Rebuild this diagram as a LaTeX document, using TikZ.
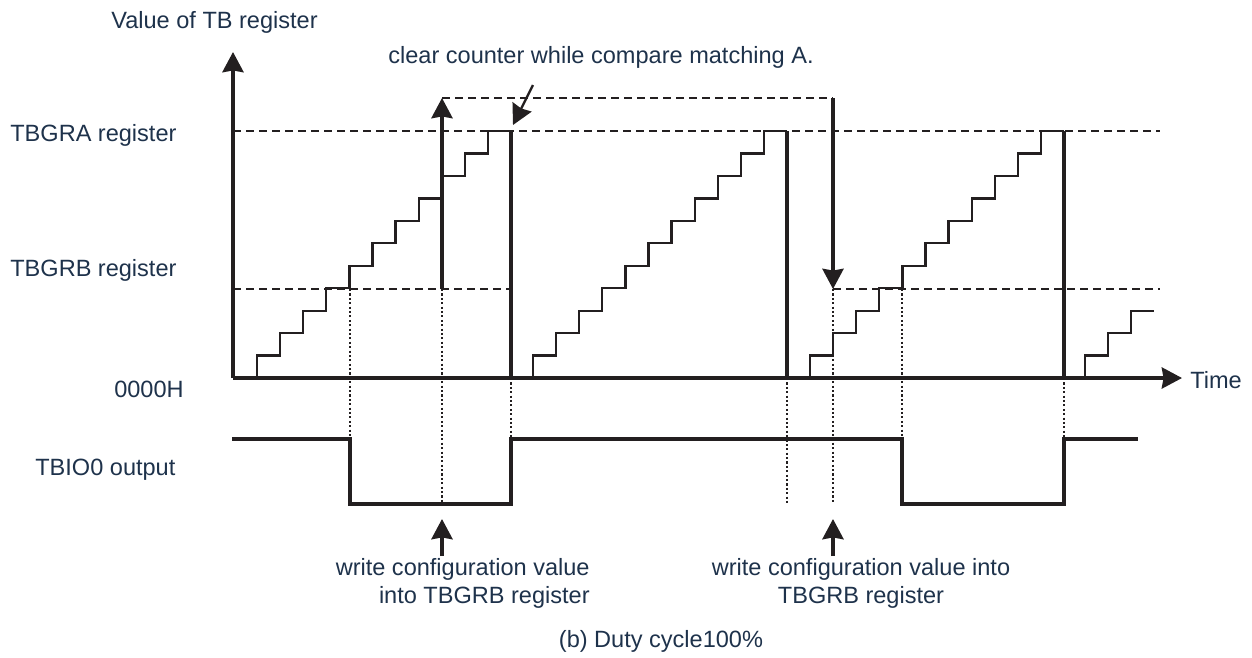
\documentclass[tikz,border=0pt]{standalone}
\usepackage{fontspec}
\setmainfont{Liberation Sans}
\usetikzlibrary{arrows.meta}

\definecolor{labnavy}{RGB}{30,50,75}
\definecolor{inkline}{RGB}{35,31,32}

\begin{document}
\begin{tikzpicture}[
  x=0.02cm,y=-0.02cm,
  axis/.style={line width=1.9pt,inkline},
  stair/.style={line width=1.3pt,inkline},
  level/.style={line width=1.3pt,inkline,dash pattern=on 4.6pt off 2.8pt},
  guide/.style={line width=1.3pt,inkline,dash pattern=on 1.2pt off 1.3pt},
  sig/.style={line width=1.9pt,inkline},
  tip/.style={-{Stealth[length=11.5pt,width=12pt,inset=1pt]}},
  lab/.style={font=\fontsize{13.4}{16}\selectfont,text=labnavy,inner sep=0pt}
]
\useasboundingbox (0,0) rectangle (1252,657);

% ---- Achsen ----
\coordinate (O) at (233,378);
\coordinate (yTip) at (233,52);
\coordinate (xTip) at (1182,378);
\draw[axis,tip] (O) -- (yTip);
\draw[axis,tip] (O) -- (xTip);

% ---- Vergleichswerte (gestrichelt) ----
\draw[level] (233,131) -- (1160,131);
\draw[level] (233,289) -- (511,289);
\draw[level] (833,289) -- (1160,289);
\draw[level] (442,98) -- (833,98);

% ---- Zaehlertreppen ----
\foreach \xs/\n in {257/11,533/11,810/11,1085/3}{
  \draw[stair] (\xs,378) \foreach \k in {1,...,\n}{
    -- ({\xs+(\k-1)*23.1},{378-\k*22.45}) -- ({\xs+\k*23.1},{378-\k*22.45})};
}
% Ruecksetzen auf 0000H
\foreach \xr in {511.1,787.1,1064.1}
  \draw[sig] (\xr,131) -- (\xr,378);

% ---- Hilfslinien (punktiert) ----
\foreach \gx/\gy/\gz in {350/289/439, 442/289/504, 511.1/378/439,
                         787.1/378/504, 833/289/504, 902/289/439, 1064.1/378/439}
  \draw[guide] (\gx,\gy) -- (\gx,\gz);

% ---- Aenderung von TBGRB ----
\coordinate (upFrom) at (442,289);
\coordinate (upTo) at (442,98);
\coordinate (dnFrom) at (833,98);
\coordinate (dnTo) at (833,289);
\draw[sig,tip] (upFrom) -- (upTo);
\draw[sig,tip] (dnFrom) -- (dnTo);

% ---- Ausgang TBIO0 ----
\draw[sig] (232,439) -| (350,504) -| (511.1,439) -| (902,504) -| (1064.1,439) -- (1138,439);

% ---- Beschriftung ----
\node[lab,anchor=base west] (vlab) at (111,28) {Value of TB register};
\node[lab,anchor=base west] (clear) at (388,63) {clear counter while compare matching A.};
\node[lab,anchor=base west] (tbgra) at (10,141) {TBGRA register};
\node[lab,anchor=base west] (tbgrb) at (10,276) {TBGRB register};
\node[lab,anchor=base east] (zero) at (184,397) {0000H};
\node[lab,anchor=base west] (tbio) at (35,475) {TBIO0 output};
\node[lab,anchor=base west] (timelab) at (1190,388) {Time};
\node[lab,anchor=north east,align=right] (wrA) at (590,558)
  {write configuration value\\into TBGRB register};
\node[lab,anchor=north,align=center] (wrB) at (861,558)
  {write configuration value into\\TBGRB register};
\node[lab,anchor=base] (cap) at (661,647) {(b) Duty cycle100\%};

% Hinweispfeile
\coordinate (clrTail) at (533,85);
\coordinate (clrTip) at (513,125);
\draw[stair,tip] (clrTail) -- (clrTip);
\coordinate (wrATail) at (442,556);
\coordinate (wrATip) at (442,519);
\coordinate (wrBTail) at (833,556);
\coordinate (wrBTip) at (833,519);
\draw[sig,tip] (wrATail) -- (wrATip);
\draw[sig,tip] (wrBTail) -- (wrBTip);

\end{tikzpicture}
\end{document}
